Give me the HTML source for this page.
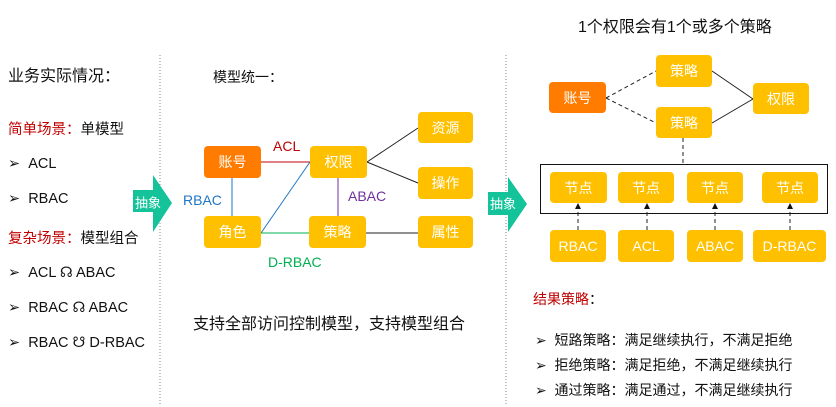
<!DOCTYPE html>
<html><head><meta charset="utf-8"><style>
body{margin:0;width:836px;height:407px;background:#fff;position:relative;overflow:hidden;font-family:"Liberation Sans","Noto Sans CJK SC",sans-serif;color:#111}
.t{position:absolute;white-space:nowrap;line-height:1;transform:translateY(-50%)}
.b{position:absolute;background:#FFC000;border-radius:4px;color:#fff;font-size:14px;display:flex;align-items:center;justify-content:center}
.o{background:#FF7C00}
.r{color:#C00000}
svg{position:absolute;left:0;top:0}
</style></head><body>
<svg width="836" height="407">
<line x1="160" y1="55" x2="160" y2="405" stroke="#888" stroke-dasharray="1,2"/>
<line x1="506" y1="55" x2="506" y2="405" stroke="#888" stroke-dasharray="1,2"/>
<polygon points="133,190 153,190 153,175 172,203 153,232 153,212 133,212" fill="#14C39A"/>
<polygon points="488,192 508,192 508,177 527,204 508,232 508,215 488,215" fill="#14C39A"/>
<line x1="261" y1="162" x2="310" y2="162" stroke="#C00000"/>
<line x1="232" y1="178" x2="232" y2="216" stroke="#1F77C4"/>
<line x1="261" y1="233" x2="310" y2="162" stroke="#1F77C4"/>
<line x1="338" y1="178" x2="338" y2="216" stroke="#7030A0"/>
<line x1="261" y1="233" x2="309" y2="233" stroke="#00B050"/>
<line x1="367" y1="162" x2="418" y2="128" stroke="#222"/>
<line x1="367" y1="162" x2="418" y2="183" stroke="#222"/>
<line x1="366" y1="233" x2="418" y2="233" stroke="#222"/>
<line x1="606" y1="98" x2="656" y2="71" stroke="#222" stroke-dasharray="4,3"/>
<line x1="606" y1="98" x2="656" y2="123" stroke="#222" stroke-dasharray="4,3"/>
<line x1="712" y1="71" x2="753" y2="99" stroke="#222"/>
<line x1="712" y1="123" x2="753" y2="99" stroke="#222"/>
<line x1="683" y1="138" x2="683" y2="164" stroke="#222" stroke-dasharray="4,3"/>
<rect x="540.5" y="164.5" width="287" height="49" fill="none" stroke="#111"/>
<g stroke="#222" stroke-dasharray="4,3"><line x1="578" y1="230" x2="578" y2="208"/><line x1="647" y1="230" x2="647" y2="208"/><line x1="715" y1="230" x2="715" y2="208"/><line x1="790" y1="230" x2="790" y2="208"/></g>
<g fill="#111"><polygon points="575,209 581,209 578,203"/><polygon points="644,209 650,209 647,203"/><polygon points="712,209 718,209 715,203"/><polygon points="787,209 793,209 790,203"/></g>
</svg>
<div class="t" style="left:135px;top:203px;color:#fff;font-size:13px">抽象</div>
<div class="t" style="left:490px;top:204px;color:#fff;font-size:13px">抽象</div>

<div class="t" style="left:8px;top:77px;font-size:16px">业务实际情况：</div>
<div class="t" style="left:8px;top:130px;font-size:14.5px"><span class="r">简单场景：</span>单模型</div>
<div class="t" style="left:8px;top:164px;font-size:14.5px">➢&nbsp;&nbsp;ACL</div>
<div class="t" style="left:8px;top:199px;font-size:14.5px">➢&nbsp;&nbsp;RBAC</div>
<div class="t" style="left:8px;top:239px;font-size:14.5px"><span class="r">复杂场景：</span>模型组合</div>
<div class="t" style="left:8px;top:273px;font-size:14.5px">➢&nbsp;&nbsp;ACL ☊ ABAC</div>
<div class="t" style="left:8px;top:308px;font-size:14.5px">➢&nbsp;&nbsp;RBAC ☊ ABAC</div>
<div class="t" style="left:8px;top:343px;font-size:14.5px">➢&nbsp;&nbsp;RBAC ☋ D-RBAC</div>

<div class="t" style="left:213px;top:77px;font-size:14px">模型统一：</div>
<div class="t" style="left:193px;top:325px;font-size:16px">支持全部访问控制模型，支持模型组合</div>
<div class="t" style="left:273px;top:146px;font-size:14px;color:#C00000">ACL</div>
<div class="t" style="left:183px;top:200px;font-size:14px;color:#1F77C4">RBAC</div>
<div class="t" style="left:348px;top:196px;font-size:14px;color:#7030A0">ABAC</div>
<div class="t" style="left:268px;top:262px;font-size:14px;color:#00B050">D-RBAC</div>

<div class="b o" style="left:204px;top:146px;width:57px;height:32px">账号</div>
<div class="b" style="left:310px;top:146px;width:57px;height:32px">权限</div>
<div class="b" style="left:418px;top:112px;width:55px;height:31px">资源</div>
<div class="b" style="left:418px;top:167px;width:55px;height:32px">操作</div>
<div class="b" style="left:204px;top:216px;width:57px;height:32px">角色</div>
<div class="b" style="left:309px;top:216px;width:57px;height:32px">策略</div>
<div class="b" style="left:418px;top:216px;width:55px;height:32px">属性</div>

<div class="t" style="left:578px;top:28px;font-size:16px">1个权限会有1个或多个策略</div>
<div class="b o" style="left:549px;top:82px;width:57px;height:31px">账号</div>
<div class="b" style="left:656px;top:55px;width:56px;height:32px">策略</div>
<div class="b" style="left:656px;top:107px;width:56px;height:31px">策略</div>
<div class="b" style="left:753px;top:83px;width:56px;height:31px">权限</div>
<div class="b" style="left:550px;top:172px;width:57px;height:31px">节点</div>
<div class="b" style="left:618px;top:172px;width:56px;height:31px">节点</div>
<div class="b" style="left:687px;top:172px;width:56px;height:31px">节点</div>
<div class="b" style="left:762px;top:172px;width:56px;height:31px">节点</div>
<div class="b" style="left:550px;top:230px;width:56px;height:32px">RBAC</div>
<div class="b" style="left:618px;top:230px;width:56px;height:32px">ACL</div>
<div class="b" style="left:687px;top:230px;width:56px;height:32px">ABAC</div>
<div class="b" style="left:753px;top:230px;width:73px;height:32px">D-RBAC</div>

<div class="t" style="left:533px;top:299px;font-size:14px"><span class="r">结果策略</span>：</div>
<div class="t" style="left:535px;top:340px;font-size:14px">➢&nbsp;&nbsp;短路策略：满足继续执行，不满足拒绝</div>
<div class="t" style="left:535px;top:365px;font-size:14px">➢&nbsp;&nbsp;拒绝策略：满足拒绝，不满足继续执行</div>
<div class="t" style="left:535px;top:390px;font-size:14px">➢&nbsp;&nbsp;通过策略：满足通过，不满足继续执行</div>
</body></html>
